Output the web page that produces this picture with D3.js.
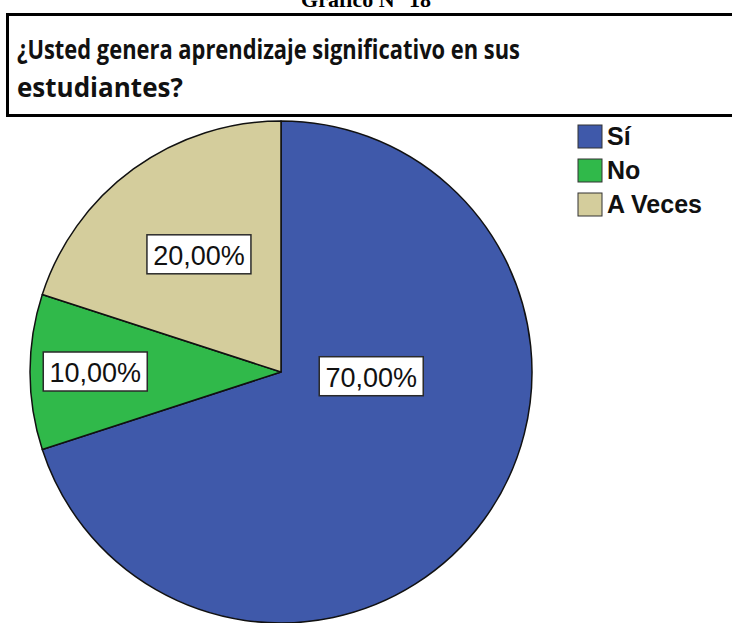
<!DOCTYPE html>
<html>
<head>
<meta charset="utf-8">
<script src="https://cdn.jsdelivr.net/npm/d3@7"></script>
<style>
  body { margin: 0; background: #fff; }
  svg { display: block; }
</style>
</head>
<body>
<div id="chart"></div>
<script>
// data
let categories = ["Sí", "No", "A Veces"];
let percents = [70, 10, 20];
let colors = ["#3f59aa", "#30b94a", "#d4cd9c"];

// where SPSS put the value boxes (fraction of radius, angle in degrees from 12 o'clock)
let labelSpots = [[0.36, 93], [0.74, 270], [0.57, 325]];

function makeGraph() {
  let w = 732, h = 623;
  let svg = d3.select("#chart").append("svg")
              .attr("width", w)
              .attr("height", h);

  let cx = 281, cy = 372, r = 251;

  let pie = d3.pie().sort(null).value(d => d);
  let arcs = pie(percents);
  let arc = d3.arc().innerRadius(0).outerRadius(r);

  let g = svg.append("g").attr("transform", `translate(${cx},${cy})`);

  g.selectAll("path")
   .data(arcs)
   .enter()
   .append("path")
   .attr("d", arc)
   .attr("fill", (d, i) => colors[i])
   .attr("stroke", "#111")
   .attr("stroke-width", 1.5)
   .attr("stroke-linejoin", "round");

  // value labels in white boxes
  let fmt = v => d3.format(".2f")(v).replace(".", ",") + "%";
  let labels = g.selectAll("g.lab")
    .data(arcs)
    .enter()
    .append("g")
    .attr("class", "lab")
    .attr("transform", (d, i) => {
      let a = labelSpots[i][1] * Math.PI / 180;
      let rr = labelSpots[i][0] * r;
      return `translate(${rr * Math.sin(a)},${-rr * Math.cos(a)})`;
    });

  labels.append("rect")
    .attr("x", -52)
    .attr("y", -20)
    .attr("width", 104)
    .attr("height", 39)
    .attr("fill", "#fff")
    .attr("stroke", "#2a2a2a")
    .attr("stroke-width", 1.5);

  labels.append("text")
    .attr("text-anchor", "middle")
    .attr("y", 10)
    .style("font-family", "'Liberation Sans', Arial, sans-serif")
    .style("font-size", "27px")
    .attr("fill", "#111")
    .text(d => fmt(d.data));

  // title box (covers top of the pie)
  svg.append("rect")
     .attr("x", 0)
     .attr("y", 0)
     .attr("width", w)
     .attr("height", 116)
     .attr("fill", "#fff");

  // caption cut off at the top, as in the scan
  svg.append("text")
     .attr("x", 366)
     .attr("y", 7)
     .attr("text-anchor", "middle")
     .style("font-family", "'Liberation Serif', 'Times New Roman', serif")
     .style("font-weight", "bold")
     .style("font-size", "22px")
     .text("Gráfico N° 18");

  svg.append("rect")
     .attr("x", 7.5)
     .attr("y", 14.5)
     .attr("width", w + 20)
     .attr("height", 101)
     .attr("fill", "none")
     .attr("stroke", "#000")
     .attr("stroke-width", 3);

  let titleLines = ["¿Usted genera aprendizaje significativo en sus", "estudiantes?"];
  svg.append("g").selectAll("text")
     .data(titleLines)
     .enter()
     .append("text")
     .attr("x", 17)
     .attr("y", (d, i) => 59 + i * 38)
     .style("font-family", "'Open Sans', sans-serif")
     .style("font-weight", "bold")
     .style("font-size", "26px")
     .attr("fill", "#111")
     .each(function(d, i) {
       if (i === 0) d3.select(this).attr("textLength", 503).attr("lengthAdjust", "spacingAndGlyphs");
     })
     .text(d => d);

  // legend
  let legend = svg.append("g").attr("transform", "translate(578,125)");
  let item = legend.selectAll("g")
     .data(categories)
     .enter()
     .append("g")
     .attr("transform", (d, i) => `translate(0,${i * 34})`);

  item.append("rect")
      .attr("width", 24)
      .attr("height", 23)
      .attr("fill", (d, i) => colors[i])
      .attr("stroke", "#333")
      .attr("stroke-width", 1);

  item.append("text")
      .attr("x", 29)
      .attr("y", 20)
      .style("font-family", "'Liberation Sans', Arial, sans-serif")
      .style("font-weight", "bold")
      .style("font-size", "25px")
      .attr("fill", "#111")
      .text(d => d);
}

window.onload = function() {
  makeGraph();
};
</script>
</body>
</html>
